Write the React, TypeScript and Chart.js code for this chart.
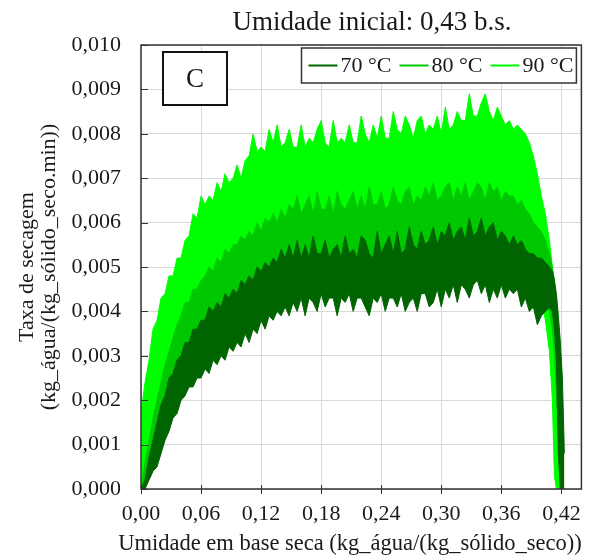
import React, { useEffect, useRef } from "react";
import { Chart, registerables } from "chart.js";

Chart.register(...registerables);

// Moisture content on a dry basis (x axis), shared by every band edge below.
const moisture = [
  0, 0.004, 0.008, 0.012, 0.016, 0.02, 0.024, 0.028, 0.032, 0.036,
  0.04, 0.044, 0.048, 0.052, 0.056, 0.06, 0.064, 0.068, 0.072, 0.076,
  0.08, 0.084, 0.088, 0.092, 0.096, 0.1, 0.104, 0.108, 0.112, 0.116,
  0.12, 0.124, 0.128, 0.132, 0.136, 0.14, 0.144, 0.148, 0.152, 0.156,
  0.16, 0.164, 0.168, 0.172, 0.176, 0.18, 0.184, 0.188, 0.192, 0.196,
  0.2, 0.204, 0.208, 0.212, 0.216, 0.22, 0.224, 0.228, 0.232, 0.236,
  0.24, 0.244, 0.248, 0.252, 0.256, 0.26, 0.264, 0.268, 0.272, 0.276,
  0.28, 0.284, 0.288, 0.292, 0.296, 0.3, 0.304, 0.308, 0.312, 0.316,
  0.32, 0.324, 0.328, 0.332, 0.336, 0.34, 0.344, 0.348, 0.352, 0.356,
  0.36, 0.364, 0.368, 0.372, 0.376, 0.38, 0.384, 0.388, 0.392, 0.396,
  0.4, 0.404, 0.408, 0.411, 0.413, 0.415, 0.417, 0.419, 0.421, 0.423,
];

// Drying rate at 70 °C: upper and lower edge of the noisy signal.
const upper70 = [
  0, 0.0002, 0.0007, 0.0011, 0.0015, 0.0019, 0.0021, 0.0025, 0.0026, 0.0029,
  0.003, 0.0033, 0.0033, 0.0036, 0.0036, 0.0038, 0.0038, 0.0041, 0.004, 0.0042,
  0.0041, 0.0044, 0.0043, 0.0045, 0.0044, 0.0047, 0.0046, 0.0048, 0.0047, 0.005,
  0.0049, 0.0051, 0.005, 0.0052, 0.0051, 0.0054, 0.0052, 0.0055, 0.0052, 0.0056,
  0.0052, 0.0055, 0.0052, 0.0057, 0.0053, 0.0053, 0.0056, 0.0052, 0.0054, 0.0055,
  0.0052, 0.0057, 0.0053, 0.0054, 0.0052, 0.0057, 0.0056, 0.0053, 0.0052, 0.0058,
  0.0053, 0.0055, 0.0057, 0.0053, 0.0058, 0.0053, 0.0054, 0.0059, 0.0055, 0.0054,
  0.0058, 0.0055, 0.0056, 0.0059, 0.0055, 0.0058, 0.0057, 0.006, 0.0056, 0.0058,
  0.0059, 0.0056, 0.0061, 0.0057, 0.0058, 0.0061, 0.0057, 0.0059, 0.006, 0.0056,
  0.0058, 0.0057, 0.0055, 0.0057, 0.0055, 0.0056, 0.0054, 0.0053, 0.0053, 0.0052,
  0.0052, 0.0051, 0.005, 0.0049, 0.0047, 0.0044, 0.0039, 0.0033, 0.0025, 0.0008,
];
const lower70 = [
  0, 0, 0.0002, 0.0004, 0.0005, 0.0008, 0.0011, 0.0013, 0.0016, 0.0017,
  0.002, 0.0021, 0.0023, 0.0023, 0.0025, 0.0025, 0.0027, 0.0026, 0.0029, 0.0028,
  0.003, 0.0029, 0.0032, 0.0031, 0.0033, 0.0032, 0.0035, 0.0033, 0.0036, 0.0035,
  0.0038, 0.0036, 0.0039, 0.0038, 0.004, 0.0039, 0.0041, 0.0039, 0.0042, 0.004,
  0.0043, 0.0039, 0.0043, 0.0042, 0.004, 0.0044, 0.0041, 0.0043, 0.0043, 0.0039,
  0.0043, 0.0042, 0.0044, 0.004, 0.0043, 0.0043, 0.0041, 0.0039, 0.0043, 0.0042,
  0.0044, 0.004, 0.0043, 0.0043, 0.0041, 0.0044, 0.004, 0.0042, 0.0043, 0.004,
  0.0044, 0.0044, 0.0041, 0.0042, 0.0045, 0.0041, 0.0045, 0.0043, 0.0046, 0.0042,
  0.0046, 0.0045, 0.0043, 0.0046, 0.0047, 0.0044, 0.0046, 0.0042, 0.0045, 0.0043,
  0.0046, 0.0043, 0.0045, 0.0044, 0.0045, 0.0041, 0.0043, 0.004, 0.0041, 0.0037,
  0.0039, 0.004, 0.0041, 0.004, 0.0036, 0.0029, 0.0008, 0, 0, 0,
];

// Drying rate at 80 °C.
const upper80 = [
  0, 0.0006, 0.0011, 0.0016, 0.002, 0.0024, 0.0028, 0.0031, 0.0034, 0.0037,
  0.0039, 0.0042, 0.0042, 0.0045, 0.0045, 0.0047, 0.0048, 0.005, 0.0049, 0.0052,
  0.0051, 0.0054, 0.0053, 0.0055, 0.0055, 0.0057, 0.0056, 0.0058, 0.0057, 0.006,
  0.0058, 0.0061, 0.006, 0.0062, 0.006, 0.0063, 0.0061, 0.0064, 0.0063, 0.0066,
  0.0062, 0.0064, 0.0066, 0.0062, 0.0067, 0.0063, 0.0063, 0.0066, 0.0062, 0.0067,
  0.0064, 0.0063, 0.0065, 0.0067, 0.0063, 0.0066, 0.0063, 0.0068, 0.0064, 0.0064,
  0.0067, 0.0063, 0.0064, 0.0068, 0.0065, 0.0064, 0.0067, 0.0068, 0.0064, 0.0066,
  0.0065, 0.0068, 0.0066, 0.0069, 0.0065, 0.0066, 0.0068, 0.0069, 0.0065, 0.0068,
  0.0066, 0.0069, 0.0065, 0.0067, 0.0069, 0.0068, 0.0065, 0.0069, 0.0067, 0.0068,
  0.0065, 0.0067, 0.0066, 0.0066, 0.0064, 0.0065, 0.0063, 0.0062, 0.006, 0.0059,
  0.0058, 0.0056, 0.0053, 0.005, 0.0047, 0.0042, 0.0034, 0.002, 0, 0,
];
const lower80 = [
  0, 0.0001, 0.0003, 0.0005, 0.0007, 0.001, 0.0013, 0.0015, 0.0018, 0.002,
  0.0022, 0.0024, 0.0025, 0.0026, 0.0027, 0.0028, 0.0029, 0.003, 0.0031, 0.0032,
  0.0032, 0.0033, 0.0034, 0.0035, 0.0036, 0.0036, 0.0037, 0.0038, 0.0039, 0.0039,
  0.004, 0.0041, 0.0041, 0.0042, 0.0043, 0.0043, 0.0044, 0.0046, 0.0046, 0.0046,
  0.0046, 0.0046, 0.0046, 0.0046, 0.0046, 0.0046, 0.0046, 0.0046, 0.0046, 0.0046,
  0.0046, 0.0046, 0.0046, 0.0046, 0.0046, 0.0046, 0.0046, 0.0046, 0.0046, 0.0046,
  0.0046, 0.0046, 0.0046, 0.0046, 0.0046, 0.0046, 0.0046, 0.0046, 0.0046, 0.0046,
  0.0046, 0.0046, 0.0046, 0.0046, 0.0046, 0.0046, 0.0048, 0.0048, 0.0048, 0.0048,
  0.0048, 0.0048, 0.0048, 0.0048, 0.0048, 0.0048, 0.0048, 0.0048, 0.0048, 0.0048,
  0.0048, 0.0048, 0.0048, 0.0048, 0.0048, 0.0048, 0.0048, 0.0046, 0.0045, 0.0044,
  0.0043, 0.0042, 0.004, 0.0036, 0.003, 0.0022, 0.0008, 0, 0, 0,
];

// Drying rate at 90 °C.
const upper90 = [
  0.0017, 0.0024, 0.0029, 0.0036, 0.0038, 0.0043, 0.0044, 0.0048, 0.0048, 0.0052,
  0.0052, 0.0056, 0.0057, 0.0062, 0.0061, 0.0066, 0.0064, 0.0066, 0.0065, 0.0069,
  0.0067, 0.0071, 0.0069, 0.007, 0.0073, 0.007, 0.0074, 0.0075, 0.008, 0.0076,
  0.0077, 0.0076, 0.0081, 0.0078, 0.0082, 0.0077, 0.0078, 0.0081, 0.0077, 0.0077,
  0.0082, 0.0077, 0.0079, 0.0078, 0.0081, 0.0083, 0.0078, 0.0077, 0.0083, 0.0078,
  0.0079, 0.0078, 0.0082, 0.0078, 0.0078, 0.0084, 0.008, 0.0078, 0.0082, 0.0079,
  0.0084, 0.0079, 0.0079, 0.0085, 0.0081, 0.008, 0.0084, 0.0082, 0.0079, 0.0083,
  0.0084, 0.008, 0.0082, 0.0081, 0.0084, 0.008, 0.0086, 0.0081, 0.0082, 0.0085,
  0.0083, 0.0083, 0.0089, 0.0084, 0.0084, 0.0087, 0.0089, 0.0085, 0.0083, 0.0086,
  0.0084, 0.0082, 0.0083, 0.0081, 0.0082, 0.0081, 0.008, 0.0078, 0.0075, 0.0071,
  0.0066, 0.0062, 0.0056, 0.005, 0.0046, 0.004, 0.003, 0.0012, 0, 0,
];
const lower90 = [
  0, 0.0001, 0.0003, 0.0005, 0.0007, 0.001, 0.0013, 0.0015, 0.0018, 0.002,
  0.0022, 0.0024, 0.0025, 0.0026, 0.0027, 0.0028, 0.0029, 0.003, 0.0031, 0.0032,
  0.0032, 0.0033, 0.0034, 0.0035, 0.0036, 0.0036, 0.0037, 0.0038, 0.0039, 0.0039,
  0.004, 0.0041, 0.0041, 0.0042, 0.0043, 0.0043, 0.0044, 0.0046, 0.0046, 0.0046,
  0.0046, 0.0046, 0.0046, 0.0046, 0.0046, 0.0046, 0.0046, 0.0046, 0.0046, 0.0046,
  0.0046, 0.0046, 0.0046, 0.0046, 0.0046, 0.0046, 0.0046, 0.0046, 0.0046, 0.0046,
  0.0046, 0.0046, 0.0046, 0.0046, 0.0046, 0.0046, 0.0046, 0.0046, 0.0046, 0.0046,
  0.0046, 0.0046, 0.0046, 0.0046, 0.0046, 0.0046, 0.0048, 0.0048, 0.0048, 0.0048,
  0.0048, 0.0048, 0.0048, 0.0048, 0.0048, 0.0048, 0.0048, 0.0048, 0.0048, 0.0048,
  0.0048, 0.0048, 0.0048, 0.0048, 0.0048, 0.0048, 0.0048, 0.0046, 0.0045, 0.0044,
  0.0043, 0.0038, 0.0031, 0.002, 0.0003, 0, 0, 0, 0, 0,
];

const seriesLabels = ["70 °C", "80 °C", "90 °C"];
const seriesColors = ["#006400", "#00c800", "#00ff00"];

const chartTitle = "Umidade inicial: 0,43 b.s.";
const panelTag = "C";
const xAxisTitle = "Umidade em base seca (kg_água/(kg_sólido_seco))";
const yAxisTitle = ["Taxa de secagem", "(kg_água/(kg_sólido_seco.min))"];

const xStep = 0.06;
const xMax = 0.44;
const yStep = 0.001;
const yMax = 0.01;

const SERIF = '"Liberation Serif", "Times New Roman", serif';
const INK = "#1a1a1a";
const FRAME = "#333333";
const TITLE_X = 372;
const TITLE_Y = 23;
const X_TITLE_X = 350;
const X_TITLE_Y = 544;

const toPoints = (values: number[]) => moisture.map((x, i) => ({ x, y: values[i] }));

const bands = [
  { label: seriesLabels[0], upper: upper70, lower: lower70, color: seriesColors[0] },
  { label: seriesLabels[1], upper: upper80, lower: lower80, color: seriesColors[1] },
  { label: seriesLabels[2], upper: upper90, lower: lower90, color: seriesColors[2] },
];

// Frame, inward tick marks, titles, legend box and panel tag.
const decorPlugin = {
  id: "decor",
  afterDraw(chart: any) {
    const { ctx, chartArea: a, scales } = chart;
    ctx.save();

    ctx.strokeStyle = FRAME;
    ctx.lineWidth = 1;
    scales.y.ticks.forEach((t: any) => {
      const py = Math.round(scales.y.getPixelForValue(t.value)) + 0.5;
      ctx.beginPath();
      ctx.moveTo(a.left, py);
      ctx.lineTo(a.left + 7, py);
      ctx.stroke();
    });
    scales.x.ticks.forEach((t: any) => {
      const px = Math.round(scales.x.getPixelForValue(t.value)) + 0.5;
      ctx.beginPath();
      ctx.moveTo(px, a.bottom - 4);
      ctx.lineTo(px, a.bottom + 5);
      ctx.stroke();
    });

    ctx.lineWidth = 1.5;
    ctx.strokeRect(a.left, a.top, a.right - a.left, a.bottom - a.top);

    // chart title and x-axis title
    ctx.fillStyle = INK;
    ctx.textAlign = "center";
    ctx.textBaseline = "middle";
    ctx.font = `27px ${SERIF}`;
    ctx.fillText(chartTitle, TITLE_X, TITLE_Y);
    ctx.font = `22.5px ${SERIF}`;
    ctx.fillText(xAxisTitle, X_TITLE_X, X_TITLE_Y);

    // legend box
    ctx.font = `22px ${SERIF}`;
    const sample = 29;
    const gapText = 3;
    const gapItem = 8;
    const padLeft = 7;
    const padRight = 3;
    const widths = seriesLabels.map((l) => ctx.measureText(l).width);
    const boxW =
      padLeft + padRight +
      widths.reduce((s, w) => s + sample + gapText + w, 0) +
      gapItem * (seriesLabels.length - 1);
    const boxH = 35;
    const boxRight = a.right - 5;
    const boxTop = a.top + 3;
    const boxLeft = boxRight - boxW;
    ctx.fillStyle = "#ffffff";
    ctx.fillRect(boxLeft, boxTop, boxW, boxH);
    ctx.strokeStyle = FRAME;
    ctx.lineWidth = 1.5;
    ctx.strokeRect(boxLeft, boxTop, boxW, boxH);
    let x = boxLeft + padLeft;
    const cy = boxTop + boxH / 2;
    seriesLabels.forEach((label, i) => {
      ctx.strokeStyle = seriesColors[i];
      ctx.lineWidth = 2;
      ctx.beginPath();
      ctx.moveTo(x, cy);
      ctx.lineTo(x + sample, cy);
      ctx.stroke();
      x += sample + gapText;
      ctx.fillStyle = INK;
      ctx.textAlign = "left";
      ctx.textBaseline = "middle";
      ctx.fillText(label, x, cy + 1);
      x += widths[i] + gapItem;
    });

    // panel tag
    const tagX = a.left + 22;
    const tagY = a.top + 7;
    const tagW = 64;
    const tagH = 53;
    ctx.fillStyle = "#ffffff";
    ctx.fillRect(tagX, tagY, tagW, tagH);
    ctx.strokeStyle = "#111111";
    ctx.lineWidth = 2;
    ctx.strokeRect(tagX, tagY, tagW, tagH);
    ctx.fillStyle = INK;
    ctx.font = `27px ${SERIF}`;
    ctx.textAlign = "center";
    ctx.textBaseline = "middle";
    ctx.fillText(panelTag, tagX + tagW / 2, tagY + tagH / 2 + 1);

    ctx.restore();
  },
};

export default function App() {
  const canvasRef = useRef<HTMLCanvasElement | null>(null);

  useEffect(() => {
    const canvas = canvasRef.current;
    if (!canvas) return;

    const datasets: any[] = [];
    bands.forEach((b) => {
      datasets.push({
        label: b.label,
        data: toPoints(b.upper),
        borderColor: b.color,
        backgroundColor: b.color,
        borderWidth: 1,
        pointRadius: 0,
        tension: 0,
        fill: "+1",
      });
      datasets.push({
        label: "",
        data: toPoints(b.lower),
        borderColor: b.color,
        backgroundColor: b.color,
        borderWidth: 1,
        pointRadius: 0,
        tension: 0,
        fill: false,
      });
    });

    const gridStyle = { color: "#d9d9d9", lineWidth: 1, drawTicks: false };
    const tickFont = { family: SERIF, size: 22 };

    const chart = new Chart(canvas, {
      type: "line",
      data: { datasets },
      plugins: [decorPlugin],
      options: {
        animation: false,
        responsive: false,
        events: [],
        layout: { padding: { top: 45, right: 8, left: 0, bottom: 0 } },
        plugins: {
          legend: { display: false },
          title: { display: false },
          tooltip: { enabled: false },
        },
        scales: {
          x: {
            type: "linear",
            min: 0,
            max: xMax,
            afterFit: (s: any) => {
              s.height = 70;
            },
            grid: gridStyle,
            border: { display: false },
            ticks: {
              stepSize: xStep,
              includeBounds: false,
              autoSkip: false,
              maxRotation: 0,
              padding: 12,
              color: INK,
              font: tickFont,
              callback: (v: any) => Number(v).toFixed(2).replace(".", ","),
            },
            title: { display: false },
          },
          y: {
            type: "linear",
            min: 0,
            max: yMax,
            afterFit: (s: any) => {
              s.width = 141;
            },
            grid: gridStyle,
            border: { display: false },
            ticks: {
              stepSize: yStep,
              autoSkip: false,
              padding: 20,
              color: INK,
              font: tickFont,
              callback: (v: any) => Number(v).toFixed(3).replace(".", ","),
            },
            title: {
              display: true,
              text: yAxisTitle,
              color: INK,
              font: { family: SERIF, size: 22, lineHeight: 1.0 },
              padding: { top: 16, bottom: 0 },
            },
          },
        },
      } as any,
    });

    return () => chart.destroy();
  }, []);

  return (
    <div style={{ position: "absolute", left: 0, top: 0, width: 593, height: 559, background: "#ffffff" }}>
      <canvas ref={canvasRef} width={593} height={559} style={{ display: "block" }} />
    </div>
  );
}
